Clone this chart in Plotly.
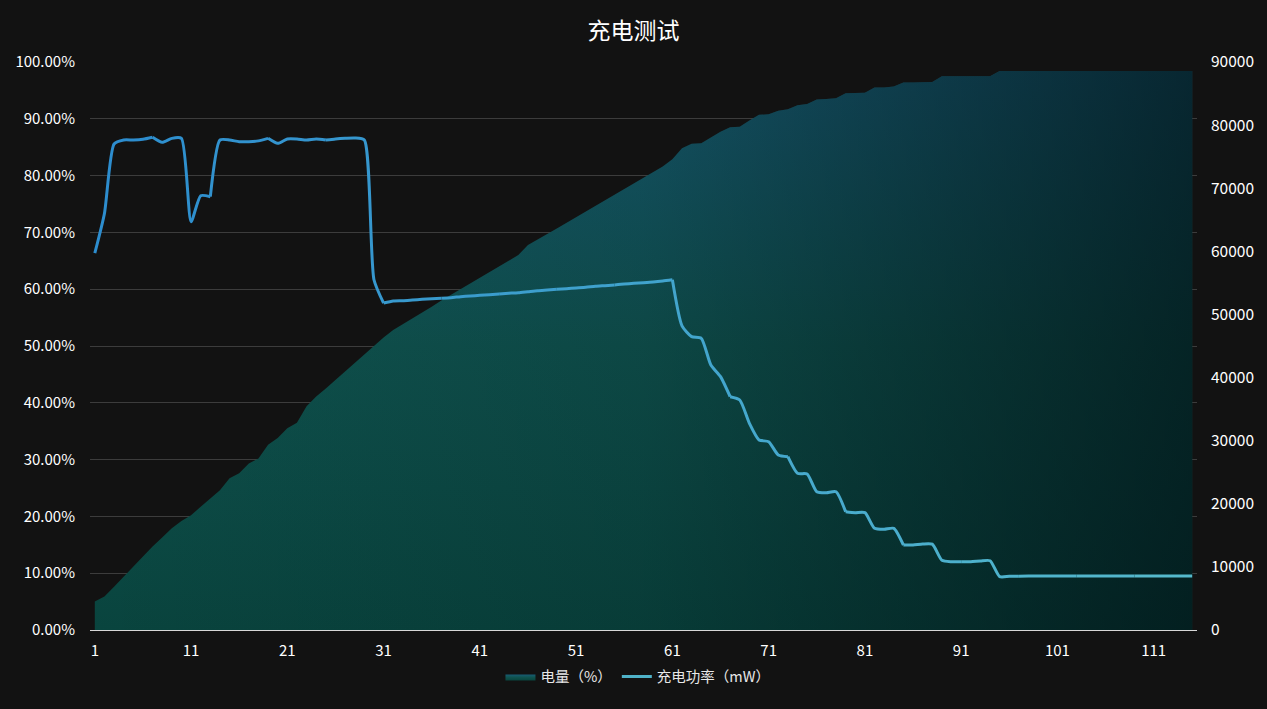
import plotly.graph_objects as go

x_idx = list(range(1, 116))

battery_pct = [
    5.0, 5.9, 7.6, 9.4, 11.1, 12.9, 14.7, 16.3, 17.9, 19.2,
    20.2, 21.7, 23.2, 24.6, 26.7, 27.6, 29.3, 30.2, 32.6, 33.8,
    35.5, 36.5, 39.4, 41.1, 42.5, 44.0, 45.5, 47.0, 48.4, 49.9,
    51.5, 52.8, 53.8, 54.9, 55.9, 56.9, 58.0, 59.0, 60.0, 61.0,
    62.1, 63.1, 64.1, 65.0, 66.0, 67.8, 68.7, 69.7, 70.7, 71.7,
    72.7, 73.7, 74.7, 75.7, 76.7, 77.7, 78.6, 79.6, 80.6, 81.6,
    82.9, 84.8, 85.6, 85.7, 86.7, 87.7, 88.5, 88.6, 89.7, 90.7,
    90.8, 91.4, 91.7, 92.4, 92.6, 93.4, 93.5, 93.6, 94.5, 94.5,
    94.6, 95.5, 95.5, 95.7, 96.4, 96.4, 96.4, 96.5, 97.5, 97.5,
    97.5, 97.5, 97.5, 97.5, 98.4, 98.4, 98.4, 98.4, 98.4, 98.4,
    98.4, 98.4, 98.4, 98.4, 98.4, 98.4, 98.4, 98.4, 98.4, 98.4,
    98.4, 98.4, 98.4, 98.4, 98.4,
]

power_mw = [
    59700, 66000, 77000, 77640, 77640, 77750, 78070, 77270, 77900, 77900,
    64700, 68820, 68660, 77640, 77640, 77370, 77370, 77500, 77900, 77110,
    77800, 77800, 77640, 77800, 77640, 77800, 77900, 77960, 77640, 55500,
    51800, 52130, 52180, 52290, 52400, 52500, 52580, 52660, 52820, 52930,
    53030, 53130, 53240, 53350, 53450, 53610, 53770, 53870, 53980, 54080,
    54190, 54300, 54460, 54560, 54670, 54820, 54930, 55030, 55140, 55300,
    55500, 48200, 46480, 46220, 41990, 40140, 36970, 36440, 32750, 30110,
    29840, 27730, 27460, 24830, 24720, 21910, 21760, 21910, 18740, 18590,
    18590, 16110, 15950, 16110, 13470, 13470, 13630, 13600, 11050, 10820,
    10820, 10820, 10930, 10980, 8450, 8500, 8520, 8540, 8550, 8560,
    8560, 8560, 8560, 8560, 8560, 8560, 8560, 8560, 8560, 8560,
    8560, 8560, 8560, 8560, 8560,
]

left_ticks = list(range(0, 101, 10))
right_ticks = list(range(0, 90001, 10000))
x_ticks = list(range(1, 116, 10))

FONT = "Noto Sans CJK SC"
BG = "#121212"

fig = go.Figure()

# battery area: vertical gradient (blue-teal top, green-teal bottom)
fig.add_trace(go.Scatter(
    x=x_idx, y=battery_pct, name="电量（%）", mode="lines",
    line=dict(width=0, color="#0e4a4c"), fill="tozeroy",
    fillcolor="#0f4d50",
    fillgradient=dict(type="vertical", start=0, stop=100,
                      colorscale=[[0, "rgb(9,68,62)"], [0.5, "rgb(15,82,78)"], [1, "rgb(24,92,116)"]]),
    yaxis="y", hoverinfo="skip",
))
# darkening towards the right (same data, overlay)
fig.add_trace(go.Scatter(
    x=x_idx, y=battery_pct, mode="lines", showlegend=False,
    line=dict(width=0), fill="tozeroy",
    fillgradient=dict(type="horizontal", start=1, stop=115,
                      colorscale=[[0, "rgba(0,12,16,0)"], [0.5, "rgba(0,12,16,0.15)"], [1, "rgba(0,14,18,0.68)"]]),
    yaxis="y", hoverinfo="skip",
))

# power line with a colour gradient along x (drawn in chunks)
c0 = (44, 140, 206)
c1 = (86, 186, 204)
n = len(x_idx)
chunk = 6
starts = list(range(0, n - 1, chunk))
for k, s in enumerate(starts):
    e = min(s + chunk + 1, n)
    t = (s + e - 1) / 2 / (n - 1)
    col = "rgb(%d,%d,%d)" % tuple(round(a + (b - a) * t) for a, b in zip(c0, c1))
    fig.add_trace(go.Scatter(
        x=x_idx[s:e], y=power_mw[s:e], mode="lines",
        line=dict(color=col, width=3, shape="spline", smoothing=0.6),
        yaxis="y2", showlegend=False, legendgroup="p", hoverinfo="skip",
    ))
fig.add_trace(go.Scatter(
    x=[None], y=[None], mode="lines", name="充电功率（mW）",
    line=dict(color="#4fb2c8", width=3), yaxis="y2", legendgroup="p",
))

fig.update_layout(
    width=1267, height=709,
    paper_bgcolor=BG, plot_bgcolor=BG,
    margin=dict(l=90, r=70, t=62, b=79),
    font=dict(family=FONT, color="#ffffff", size=15),
    title=dict(text="充电测试", x=0.5, xanchor="center", y=0.956, yanchor="middle",
               font=dict(size=23, color="#ffffff", family=FONT)),
    showlegend=True,
    legend=dict(orientation="h", x=0.495, xanchor="center", y=-0.082, yanchor="middle",
                font=dict(size=14.5, color="#e8e8e8"), bgcolor="rgba(0,0,0,0)",
                itemwidth=30, traceorder="normal"),
    xaxis=dict(range=[0.5, 115.5], tickmode="array", tickvals=x_ticks,
               ticktext=[str(v) for v in x_ticks], showgrid=False, zeroline=False,
               showline=True, linecolor="#d8d8d8", linewidth=1, ticks="",
               ticklabelstandoff=7,
               tickfont=dict(size=15, color="#ffffff")),
    yaxis=dict(range=[0, 100], tickmode="array", tickvals=left_ticks,
               ticktext=["%.2f%%" % v for v in left_ticks], showgrid=True,
               gridcolor="#3c3c3c", gridwidth=1, zeroline=False, showline=False,
               ticks="", ticklabelstandoff=14,
               tickfont=dict(size=15, color="#ffffff")),
    yaxis2=dict(range=[0, 90000], tickmode="array", tickvals=right_ticks,
                ticktext=[str(v) for v in right_ticks], overlaying="y", side="right",
                showgrid=False, zeroline=False, showline=False, ticks="",
                ticklabelstandoff=13,
                tickfont=dict(size=15.5, color="#ffffff")),
)

fig.write_html(
    "out.html",
    config={"displayModeBar": False},
    post_script="document.body.style.margin='0';document.body.style.background='%s';" % BG,
)
